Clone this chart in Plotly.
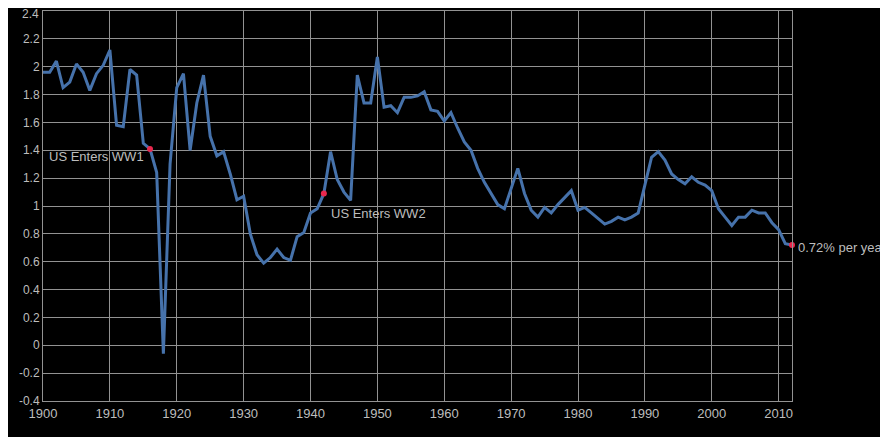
import plotly.graph_objects as go

years = list(range(1900, 2013))
growth = [
    1.96, 1.96, 2.04, 1.85, 1.89, 2.02, 1.96, 1.83, 1.95, 2.01,   # 1900-1909
    2.12, 1.58, 1.57, 1.98, 1.94, 1.45, 1.41, 1.24, -0.06, 1.30,  # 1910-1919
    1.85, 1.95, 1.40, 1.74, 1.94, 1.50, 1.36, 1.39, 1.23, 1.045,  # 1920-1929
    1.07, 0.80, 0.65, 0.59, 0.63, 0.69, 0.63, 0.61, 0.78, 0.81,   # 1930-1939
    0.95, 0.98, 1.09, 1.39, 1.19, 1.10, 1.04, 1.94, 1.74, 1.74,   # 1940-1949
    2.07, 1.71, 1.72, 1.67, 1.78, 1.78, 1.79, 1.82, 1.69, 1.68,   # 1950-1959
    1.61, 1.67, 1.56, 1.46, 1.40, 1.27, 1.17, 1.09, 1.01, 0.98,   # 1960-1969
    1.12, 1.27, 1.09, 0.97, 0.92, 0.99, 0.95, 1.01, 1.06, 1.11,   # 1970-1979
    0.97, 0.99, 0.95, 0.91, 0.87, 0.89, 0.92, 0.90, 0.92, 0.95,   # 1980-1989
    1.14, 1.35, 1.39, 1.33, 1.23, 1.19, 1.16, 1.21, 1.17, 1.15,   # 1990-1999
    1.11, 0.98, 0.92, 0.86, 0.92, 0.92, 0.97, 0.95, 0.95, 0.88,   # 2000-2009
    0.83, 0.73, 0.72,                                             # 2010-2012
]

event_years = [1916, 1942, 2012]
event_labels = ["US Enters WW1", "US Enters WW2", "0.72% per year"]

x_ticks = list(range(1900, 2011, 10))
y_tick_vals = [-0.4, -0.2, 0, 0.2, 0.4, 0.6, 0.8, 1, 1.2, 1.4, 1.6, 1.8, 2, 2.2, 2.4]
y_tick_text = ["-0.4", "-0.2", "0", "0.2", "0.4", "0.6", "0.8", "1", "1.2", "1.4",
               "1.6", "1.8", "2", "2.2", "2.4"]

event_vals = [growth[years.index(y)] for y in event_years]

grid_col = "#929292"
text_col = "#bdbdbd"
font_family = "Liberation Sans, Arial, Helvetica, sans-serif"

fig = go.Figure()
fig.add_trace(go.Scatter(
    x=years, y=growth, mode="lines",
    line=dict(color="#4672ab", width=3),
    hoverinfo="skip", showlegend=False, cliponaxis=False,
))
fig.add_trace(go.Scatter(
    x=event_years, y=event_vals, mode="markers",
    marker=dict(color="#e8284e", size=6),
    hoverinfo="skip", showlegend=False, cliponaxis=False,
))

# annotation placement styles (one per event)
ann_styles = [
    dict(xanchor="right", yanchor="middle", xshift=-4, yshift=-8),
    dict(xanchor="left", yanchor="middle", xshift=5, yshift=-20),
    dict(xanchor="left", yanchor="middle", xshift=4, yshift=-2),
]
for yr, val, lab, st in zip(event_years, event_vals, event_labels, ann_styles):
    fig.add_annotation(
        x=yr, y=val, text=lab, showarrow=False,
        font=dict(family=font_family, size=13, color=text_col),
        **st,
    )

# the topmost y tick label is drawn as an annotation nudged down so it stays on the page
top_label_text = y_tick_text[-1]
axis_tick_text = y_tick_text[:-1] + [""]
fig.add_annotation(
    xref="paper", x=0, y=y_tick_vals[-1], text=top_label_text, showarrow=False,
    xanchor="right", yanchor="middle", xshift=-2, yshift=-3,
    font=dict(family=font_family, size=12, color=text_col),
)

fig.update_layout(
    width=880, height=429,
    margin=dict(l=35, r=96, t=3, b=36, autoexpand=False),
    paper_bgcolor="black", plot_bgcolor="black",
    font=dict(family=font_family, color=text_col),
)
fig.update_xaxes(
    range=[1900, 2012], tickvals=x_ticks, automargin=False,
    showgrid=True, gridcolor=grid_col, gridwidth=1,
    showline=True, linecolor=grid_col, linewidth=1, mirror=True,
    zeroline=False, ticks="", tickfont=dict(size=13, color=text_col),
    ticklabeloverflow="allow",
)
fig.update_yaxes(
    range=[-0.4, 2.4], tickvals=y_tick_vals, ticktext=axis_tick_text, automargin=False,
    showgrid=True, gridcolor=grid_col, gridwidth=1,
    showline=True, linecolor=grid_col, linewidth=1, mirror=True,
    zeroline=False, ticks="", tickfont=dict(size=12, color=text_col),
    ticklabeloverflow="allow",
)

fig.write_html("out.html")
